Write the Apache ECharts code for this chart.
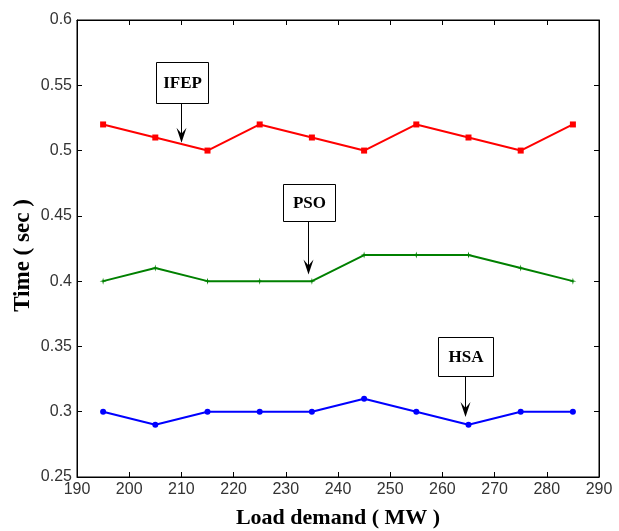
<!DOCTYPE html>
<html><head><meta charset="utf-8">
<script src="https://cdn.jsdelivr.net/npm/echarts@6/dist/echarts.min.js"></script>
<style>html,body{margin:0;padding:0;background:#fff}#c{width:619px;height:531px}</style>
</head><body><div id="c"></div>
<script>
const loadDemand = [195, 205, 215, 225, 235, 245, 255, 265, 275, 285];
const ifep = [0.52, 0.51, 0.50, 0.52, 0.51, 0.50, 0.52, 0.51, 0.50, 0.52];
const pso  = [0.40, 0.41, 0.40, 0.40, 0.40, 0.42, 0.42, 0.42, 0.41, 0.40];
const hsa  = [0.30, 0.29, 0.30, 0.30, 0.30, 0.31, 0.30, 0.29, 0.30, 0.30];
const annotText = ['IFEP', 'PSO', 'HSA'];
const annotX    = [210, 234.3, 264.3];
const annotTipY = [0.506, 0.405, 0.296];
const annotBoxY = [0.5364, 0.446, 0.3273];

const chart = echarts.init(document.getElementById('c'));
const pair = a => loadDemand.map((x, i) => [x, a[i]]);
const tickFont = {fontFamily: '"Liberation Sans", Arial', fontSize: 16, color: '#333'};
const titleFont = {fontFamily: '"Liberation Serif", "Times New Roman"', fontWeight: 'bold', fontSize: 22, color: '#000'};
const lineSeries = (name, data, color, symbol, size) => ({
  name, type: 'line', data: pair(data), symbol, symbolSize: size,
  lineStyle: {color, width: 2}, itemStyle: {color}, animation: false, z: 3
});
chart.setOption({
  animation: false,
  grid: {left: 77, top: 20, width: 522, height: 457, show: true, borderColor: '#000', borderWidth: 1,
         containLabel: false, outerBoundsMode: 'none'},
  xAxis: [{
    type: 'value', min: 190, max: 290, interval: 10, position: 'bottom',
    name: 'Load demand ( MW )', nameLocation: 'middle', nameGap: 30, nameTextStyle: titleFont,
    nameMoveOverlap: false,
    axisLine: {show: true, lineStyle: {color: '#000'}},
    axisTick: {show: true, inside: true, length: 5, lineStyle: {color: '#000'}},
    axisLabel: Object.assign({margin: 5}, tickFont), splitLine: {show: false}
  }, {
    type: 'value', min: 190, max: 290, interval: 10, position: 'top',
    axisLine: {show: true, lineStyle: {color: '#000'}},
    axisTick: {show: true, inside: true, length: 5, lineStyle: {color: '#000'}},
    axisLabel: {show: false}, splitLine: {show: false}
  }],
  yAxis: [{
    type: 'value', min: 0.25, max: 0.6, interval: 0.05, position: 'left',
    name: 'Time ( sec )', nameLocation: 'middle', nameGap: 42, nameMoveOverlap: false,
    nameTextStyle: Object.assign({}, titleFont, {fontSize: 23, padding: [0, 14, 0, 0]}),
    axisLine: {show: true, lineStyle: {color: '#000'}},
    axisTick: {show: true, inside: true, length: 5, lineStyle: {color: '#000'}},
    axisLabel: Object.assign({margin: 5, formatter: v => String(+v.toFixed(2))}, tickFont), splitLine: {show: false}
  }, {
    type: 'value', min: 0.25, max: 0.6, interval: 0.05, position: 'right',
    axisLine: {show: true, lineStyle: {color: '#000'}},
    axisTick: {show: true, inside: true, length: 5, lineStyle: {color: '#000'}},
    axisLabel: {show: false}, splitLine: {show: false}
  }],
  series: [
    lineSeries('IFEP', ifep, '#ff0000', 'rect', 6),
    lineSeries('PSO', pso, '#008000', 'path://M0,-5L1,-1L5,0L1,1L0,5L-1,1L-5,0L-1,-1Z', 7),
    lineSeries('HSA', hsa, '#0000ff', 'circle', 6)
  ]
});

const boxW = [52, 52, 55], boxH = [41, 37, 39];
const g = [];
annotText.forEach((t, i) => {
  const tip = chart.convertToPixel({gridIndex: 0}, [annotX[i], annotTipY[i]]);
  const bot = chart.convertToPixel({gridIndex: 0}, [annotX[i], annotBoxY[i]]);
  const x = Math.round(tip[0]) + 0.5;
  const bx = Math.round(x - boxW[i] / 2) + 0.5, by = Math.round(bot[1] - boxH[i]) + 0.5;
  g.push({type: 'rect', shape: {x: bx, y: by, width: boxW[i], height: boxH[i]},
          style: {fill: '#fff', stroke: '#000', lineWidth: 1}, z: 10});
  g.push({type: 'text', x: bx + boxW[i] / 2, y: by + boxH[i] / 2 + 1,
          style: {text: t, fill: '#000', font: 'bold 17px "Liberation Serif", "Times New Roman"', align: 'center', verticalAlign: 'middle'}, z: 11});
  g.push({type: 'line', shape: {x1: x, y1: by + boxH[i], x2: x, y2: tip[1] - 6},
          style: {stroke: '#000', lineWidth: 1}, z: 10});
  const ty = tip[1];
  g.push({type: 'polygon', shape: {points: [[x, ty], [x - 5, ty - 15], [x, ty - 9], [x + 5, ty - 15]]},
          style: {fill: '#000'}, z: 10});
});
chart.setOption({graphic: g});
</script></body></html>
